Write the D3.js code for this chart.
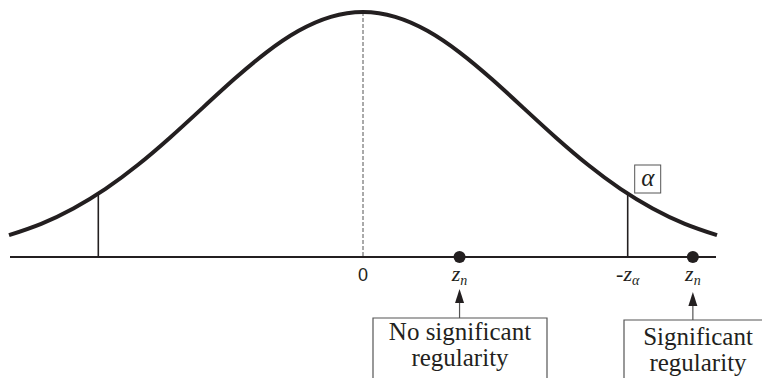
<!DOCTYPE html>
<html>
<head>
<meta charset="utf-8">
<script src="https://cdn.jsdelivr.net/npm/d3@7"></script>
</head>
<body style="margin:0;background:#fff">
<svg id="normal-plot" width="762" height="378" style="display:block;font-family:'Times New Roman'"></svg>
<script>
// Standard normal density, tabulated at z = -2.2 ... 2.2 in steps of 0.2
const curveZ = [-2.2, -2.0, -1.8, -1.6, -1.4, -1.2, -1.0, -0.8, -0.6, -0.4, -0.2, 0,
                0.2, 0.4, 0.6, 0.8, 1.0, 1.2, 1.4, 1.6, 1.8, 2.0, 2.2];
const curveDensity = [0.0355, 0.0540, 0.0790, 0.1109, 0.1497, 0.1942, 0.2420, 0.2897, 0.3332, 0.3683, 0.3910, 0.3989,
                      0.3910, 0.3683, 0.3332, 0.2897, 0.2420, 0.1942, 0.1497, 0.1109, 0.0790, 0.0540, 0.0355];

// Critical values (vertical lines) and their densities
const criticalZ = [-1.645, 1.645];
const criticalDensity = [0.1031, 0.1031];

// Observed statistics (dots on the axis)
const observedZ = [0.6, 2.05];

// Axis labels
const tickZ = [0, 0.6, 1.645, 2.05];
const tickMain = ["0", "z", "-z", "z"];
const tickSub = ["", "n", "α", "n"];
const tickSerif = [false, true, true, true];

// Outcome boxes
const boxLines = [["No significant", "regularity"], ["Significant", "regularity"]];
const alphaLabel = "α";

const ink = "#231f20";
const SERIF = "'Times New Roman'";
const SANS = "Arial";
const svg = d3.select("#normal-plot");

const x = d3.scaleLinear().domain([-2.2, 2.2]).range([9, 717]);
const y = d3.scaleLinear().domain([0, 0.3989]).range([257, 12]);

// centre line (dashed)
svg.append("line")
  .attr("x1", x(0)).attr("x2", x(0))
  .attr("y1", y(0.3989)).attr("y2", y(0))
  .attr("stroke", "#555").attr("stroke-width", 1)
  .attr("stroke-dasharray", "4,2");

// horizontal axis
svg.append("line")
  .attr("x1", x(-2.2) + 1).attr("x2", x(2.2) - 1)
  .attr("y1", y(0)).attr("y2", y(0))
  .attr("stroke", ink).attr("stroke-width", 2);

// critical value lines
svg.selectAll("line.crit")
  .data(criticalZ)
  .join("line")
  .attr("class", "crit")
  .attr("x1", d => x(d)).attr("x2", d => x(d))
  .attr("y1", y(0)).attr("y2", (d, i) => y(criticalDensity[i]))
  .attr("stroke", ink).attr("stroke-width", 1.6);

// density curve
const pts = curveZ.map((z, i) => [z, curveDensity[i]]);
svg.append("path")
  .datum(pts)
  .attr("fill", "none")
  .attr("stroke", ink)
  .attr("stroke-width", 4)
  .attr("d", d3.line().x(d => x(d[0])).y(d => y(d[1])).curve(d3.curveNatural));

// observed dots
svg.selectAll("circle.obs")
  .data(observedZ)
  .join("circle")
  .attr("class", "obs")
  .attr("cx", d => x(d)).attr("cy", y(0)).attr("r", 6)
  .attr("fill", ink);

// axis labels
tickZ.forEach((z, i) => {
  const t = svg.append("text")
    .attr("x", x(z)).attr("y", 281)
    .attr("text-anchor", "middle")
    .attr("fill", ink);
  if (!tickSerif[i]) {
    t.attr("font-family", SANS).attr("font-size", 18).text(tickMain[i]);
  } else {
    t.attr("font-family", SERIF).attr("font-style", "italic").attr("font-size", 22);
    t.append("tspan").text(tickMain[i]);
    t.append("tspan").attr("font-size", 14).attr("dy", 4).text(tickSub[i]);
  }
});

// alpha box
const ax = x(1.645) + 7;
svg.append("rect")
  .attr("x", ax).attr("y", 165).attr("width", 26).attr("height", 28)
  .attr("fill", "#fff").attr("stroke", "#555").attr("stroke-width", 1);
svg.append("text")
  .attr("x", ax + 13).attr("y", 186)
  .attr("text-anchor", "middle")
  .attr("font-family", SERIF).attr("font-style", "italic").attr("font-size", 25)
  .attr("fill", ink).text(alphaLabel);

// outcome boxes with arrows
const boxLeft = [373, 624];
const boxRight = [547, 790];
const boxTop = [318, 320];
const textCenter = [460, 698];
const textBase = [340, 345];
const tipY = [289, 292];

observedZ.forEach((z, i) => {
  const cx = x(z);
  svg.append("line")
    .attr("x1", cx).attr("x2", cx)
    .attr("y1", boxTop[i]).attr("y2", tipY[i] + 12)
    .attr("stroke", "#555").attr("stroke-width", 1.2);
  svg.append("path")
    .attr("d", `M${cx},${tipY[i]} L${cx - 4.5},${tipY[i] + 14} L${cx + 4.5},${tipY[i] + 14} Z`)
    .attr("fill", ink);
  svg.append("path")
    .attr("d", `M${boxLeft[i]},400 V${boxTop[i]} H${boxRight[i]} V400`)
    .attr("fill", "none").attr("stroke", "#555").attr("stroke-width", 1.2);
  boxLines[i].forEach((s, j) => {
    svg.append("text")
      .attr("x", textCenter[i]).attr("y", textBase[i] + j * 26)
      .attr("text-anchor", "middle")
      .attr("font-family", SERIF).attr("font-size", 25)
      .attr("fill", ink).text(s);
  });
});
</script>
</body>
</html>
